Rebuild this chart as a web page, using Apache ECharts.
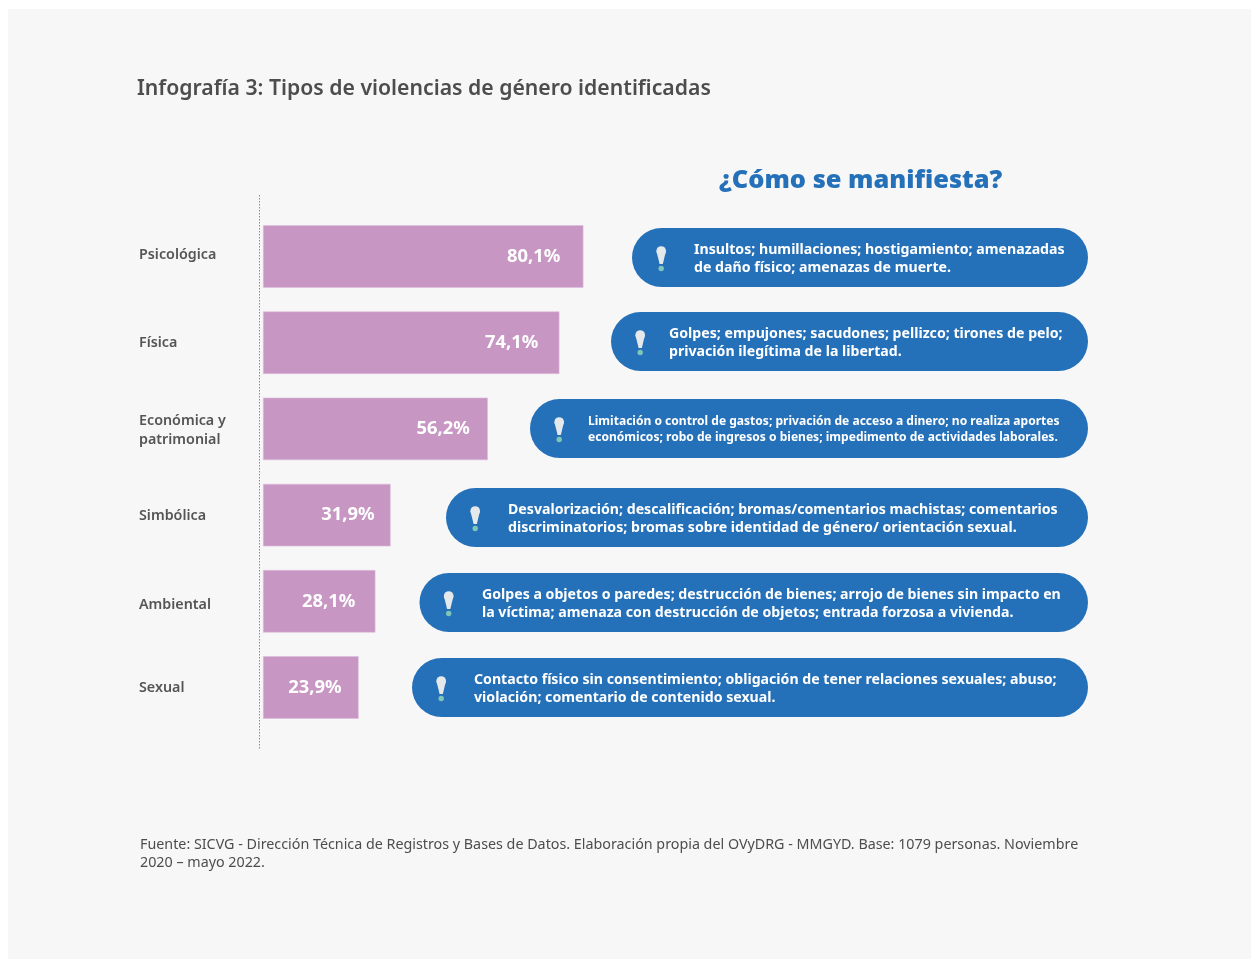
<!DOCTYPE html>
<html><head><meta charset="utf-8">
<style>html,body{margin:0;padding:0;background:#fff}#c{width:1251px;height:959px}</style>
<script src="https://cdn.jsdelivr.net/npm/echarts@6/dist/echarts.min.js"></script>
</head><body><div id="c"></div>
<script>
const categories = ['Psicológica','Física','Económica y\npatrimonial','Simbólica','Ambiental','Sexual'];
const values = [80.1,74.1,56.2,31.9,28.1,23.9];
const valueLabels = ['80,1%','74,1%','56,2%','31,9%','28,1%','23,9%'];
const manifestations = [
 'Insultos; humillaciones; hostigamiento; amenazadas\nde daño físico; amenazas de muerte.',
 'Golpes; empujones; sacudones; pellizco; tirones de pelo;\nprivación ilegítima de la libertad.',
 'Limitación o control de gastos; privación de acceso a dinero; no realiza aportes\neconómicos; robo de ingresos o bienes; impedimento de actividades laborales.',
 'Desvalorización; descalificación; bromas/comentarios machistas; comentarios\ndiscriminatorios; bromas sobre identidad de género/ orientación sexual.',
 'Golpes a objetos o paredes; destrucción de bienes; arrojo de bienes sin impacto en\nla víctima; amenaza con destrucción de objetos; entrada forzosa a vivienda.',
 'Contacto físico sin consentimiento; obligación de tener relaciones sexuales; abuso;\nviolación; comentario de contenido sexual.'
];
const titleText = 'Infografía 3: Tipos de violencias de género identificadas';
const headingText = '¿Cómo se manifiesta?';
const sourceText = 'Fuente: SICVG - Dirección Técnica de Registros y Bases de Datos. Elaboración propia del OVyDRG - MMGYD. Base: 1079 personas. Noviembre\n2020 – mayo 2022.';

const FONT = '"Noto Sans"';
const pillLeft = [632,611,530,446,419.5,412];
const pillTop = [228,312,399,488,573,658];
const textLeft = [694,669,588,508,482,474];
const textSize = [14.15,14.15,12.05,14.15,14.15,14.15];
const textLH = [18,18,16,18,18,18];
const labelInset = [23,21,18,16,20,17];
const labelShift = [-1.5,0,2,1,4,0];

const g = [];
g.push({type:'rect',silent:true,z:-10,shape:{x:8,y:9,width:1243,height:950},style:{fill:'#f7f7f7'}});
g.push({type:'text',x:137,y:88.5,style:{text:titleText,font:'600 21.2px '+FONT,fill:'#4d4d4d',textVerticalAlign:'middle'}});
g.push({type:'text',x:719,y:181,style:{text:headingText,font:'900 25.4px '+FONT,fill:'#2571b9',textVerticalAlign:'middle'}});
g.push({type:'text',x:140,y:854,style:{text:sourceText,font:'400 14.3px '+FONT,fill:'#4d4d4d',lineHeight:18,textVerticalAlign:'middle'}});
g.push({type:'line',shape:{x1:259.5,y1:195,x2:259.5,y2:749},style:{stroke:'#8c8c8c',lineWidth:1,lineDash:[1.5,1.5]}});
manifestations.forEach((t,i)=>{
  const x=pillLeft[i], y=pillTop[i];
  g.push({type:'rect',shape:{x:x,y:y,width:1088-x,height:59,r:29.5},style:{fill:'#2571b9'}});
  const mx=x+29.2, my=y+23;
  g.push({type:'circle',shape:{cx:mx,cy:my,r:4.8},style:{fill:'#e6e9ec'}});
  g.push({type:'polygon',shape:{points:[[mx-4.8,my],[mx+4.8,my],[mx+1.6,my+13],[mx-1.6,my+13]]},style:{fill:'#e6e9ec'}});
  g.push({type:'circle',shape:{cx:mx,cy:my+17.5,r:2.7},style:{fill:'#7fc6b8'}});
  g.push({type:'text',x:textLeft[i],y:y+31,style:{text:t,font:'700 '+textSize[i]+'px '+FONT,fill:'#fff',lineHeight:textLH[i],textVerticalAlign:'middle'}});
});

const richLabel = {p:{lineHeight:18,padding:[4,0,0,0]}};
labelShift.forEach((d,i)=>{
  richLabel['s'+i]={padding:[d>0?2*d:0,0,d<0?-2*d:0,0]};
});
richLabel.s2 = {lineHeight:18,padding:[2,0,0,0]};

const chart = echarts.init(document.getElementById('c'),null,{renderer:'canvas'});
chart.setOption({
  animation:false,
  backgroundColor:'#ffffff',
  grid:{left:263,top:213.4,width:400,height:517.2,containLabel:false},
  xAxis:{type:'value',min:0,max:100,show:false},
  yAxis:{type:'category',inverse:true,data:categories,
    axisLine:{show:false},axisTick:{show:false},splitLine:{show:false},
    axisLabel:{align:'left',margin:124,fontFamily:FONT,fontWeight:600,fontSize:14.3,color:'#555',lineHeight:18,
      formatter:(v,i)=>v.split('\n').map((s,k)=>k===0?`{s${i}|${s}}`:`{p|${s}}`).join('\n'),rich:richLabel}},
  series:[{type:'bar',barWidth:62.5,
    data:values.map((v,i)=>({value:v,label:{distance:labelInset[i],formatter:valueLabels[i]}})),
    itemStyle:{color:'#c796c3',borderColor:'#dcbedb',borderWidth:0.6},
    label:{show:true,position:'insideRight',color:'#fff',fontFamily:FONT,fontWeight:700,fontSize:18.4}}],
  graphic:{elements:g}
});
</script></body></html>
